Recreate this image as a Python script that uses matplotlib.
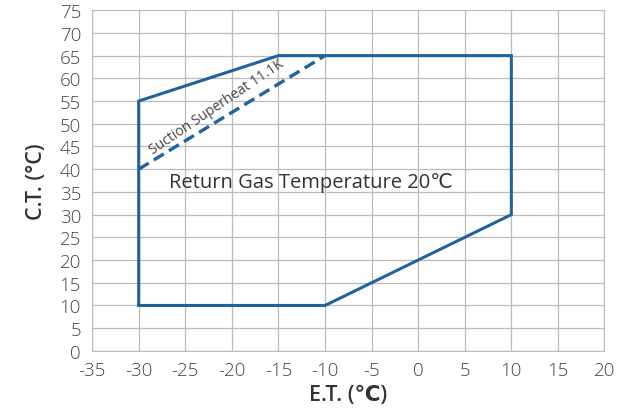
import matplotlib.pyplot as plt

plt.rcParams["font.family"] = ["Open Sans", "DejaVu Sans"]
plt.rcParams["axes.unicode_minus"] = False

# operating envelope (E.T., C.T.)
env_et = [-30, -30, -15, 10, 10, -10, -30]
env_ct = [10, 55, 65, 65, 30, 10, 10]

# suction superheat 11.1K limit
sh_et = [-30, -10]
sh_ct = [40, 65]

xticks = list(range(-35, 25, 5))
yticks = list(range(0, 80, 5))

fig = plt.figure(figsize=(6.31, 4.14), dpi=100)
ax = fig.add_axes([0.146, 0.150, 0.812, 0.823])

ax.plot(env_et, env_ct, color="#20629e", lw=2.2, solid_joinstyle="miter")
ax.plot(sh_et, sh_ct, color="#20629e", lw=2.4, ls=(0, (3.5, 1.8)))

ax.text(-26.8, 37.2, "Return Gas Temperature 20℃", fontsize=14.5, color="#333333",
        va="center", ha="left")
ax.text(-21.6, 53.8, "Suction Superheat 11.1K", fontsize=10, color="#444444",
        rotation=34, ha="center", va="center")

ax.set_xlim(-35, 20)
ax.set_ylim(0, 75)
ax.set_xticks(xticks)
ax.set_yticks(yticks)
ax.grid(True, color="#bbbbbb", lw=0.9)
ax.tick_params(length=0, labelsize=13.5, labelcolor="#444444")
ax.tick_params(axis="x", pad=7)
ax.tick_params(axis="y", pad=8)
for lab in ax.get_xticklabels() + ax.get_yticklabels():
    lab.set_fontweight("light")
for s in ax.spines.values():
    s.set_color("#bbbbbb")
ax.set_xlabel("E.T. (℃)", fontsize=15.5, fontweight="semibold", color="#333333", labelpad=4)
ax.set_ylabel("C.T. (°C)", fontsize=15.5, fontweight="semibold", color="#333333", labelpad=9)

plt.savefig("out.png")
